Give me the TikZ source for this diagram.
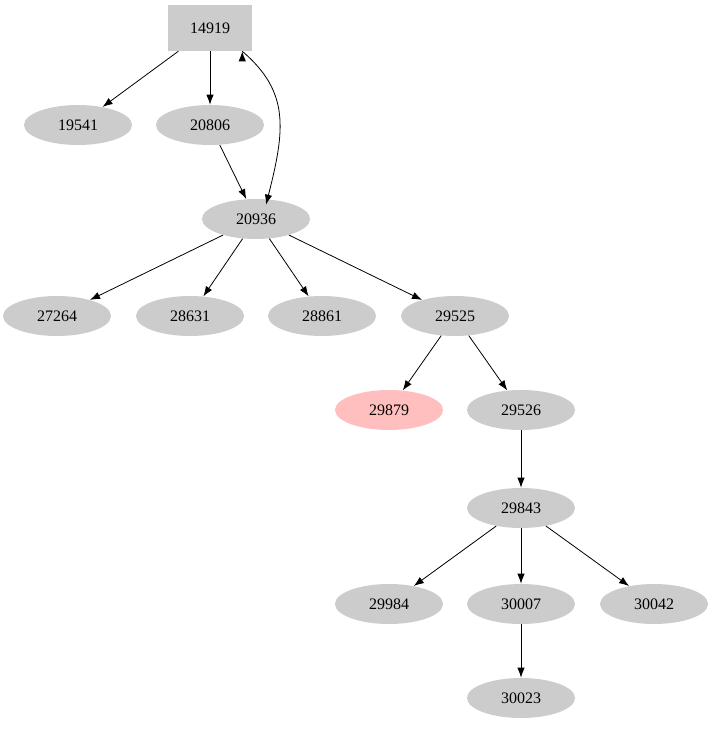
\documentclass[tikz,border=0pt]{standalone}
\usepackage{fontspec}
\setmainfont{Liberation Serif}
\usetikzlibrary{shapes.geometric,arrows.meta}
\begin{document}
\begin{tikzpicture}[x=0.75pt,y=-0.75pt,
  el/.style={ellipse,fill=lightgray!80!white,minimum width=81pt,minimum height=30pt,inner sep=0pt,font=\fontsize{12}{14}\selectfont},
  bx/.style={rectangle,fill=lightgray!80!white,minimum width=63pt,minimum height=34.5pt,inner sep=0pt,font=\fontsize{12}{14}\selectfont},
  ar/.style={draw,-{Latex[length=7.5pt,width=5.5pt]},line width=0.6pt}]
\useasboundingbox (0,0) rectangle (713,731);
\node[bx] (a) at (210,28) {14919};
\node[el] (b) at (78,125) {19541};
\node[el] (c) at (210,125) {20806};
\node[el] (d) at (256,219) {20936};
\node[el] (e) at (57,316) {27264};
\node[el] (f) at (190,316) {28631};
\node[el] (g) at (322,316) {28861};
\node[el] (h) at (455,316) {29525};
\node[el,fill=pink] (i) at (389,410) {29879};
\node[el] (j) at (521,410) {29526};
\node[el] (k) at (521,508) {29843};
\node[el] (l) at (389,604) {29984};
\node[el] (m) at (521,604) {30007};
\node[el] (n) at (654,604) {30042};
\node[el] (o) at (521,698) {30023};
\draw[ar] (a) -- (b);
\draw[ar] (a) -- (c);
\draw[ar] (a.south east) ++(-10,0) coordinate (a1);
\draw[ar] (a1) .. controls (290,92) and (285,130) .. (d.north east -| 266,0) ;
\draw[ar] (c) -- (d);
\draw[ar] (d) -- (e);
\draw[ar] (d) -- (f);
\draw[ar] (d) -- (g);
\draw[ar] (d) -- (h);
\draw[ar] (h) -- (i);
\draw[ar] (h) -- (j);
\draw[ar] (j) -- (k);
\draw[ar] (k) -- (l);
\draw[ar] (k) -- (m);
\draw[ar] (k) -- (n);
\draw[ar] (m) -- (o);
\end{tikzpicture}
\end{document}
